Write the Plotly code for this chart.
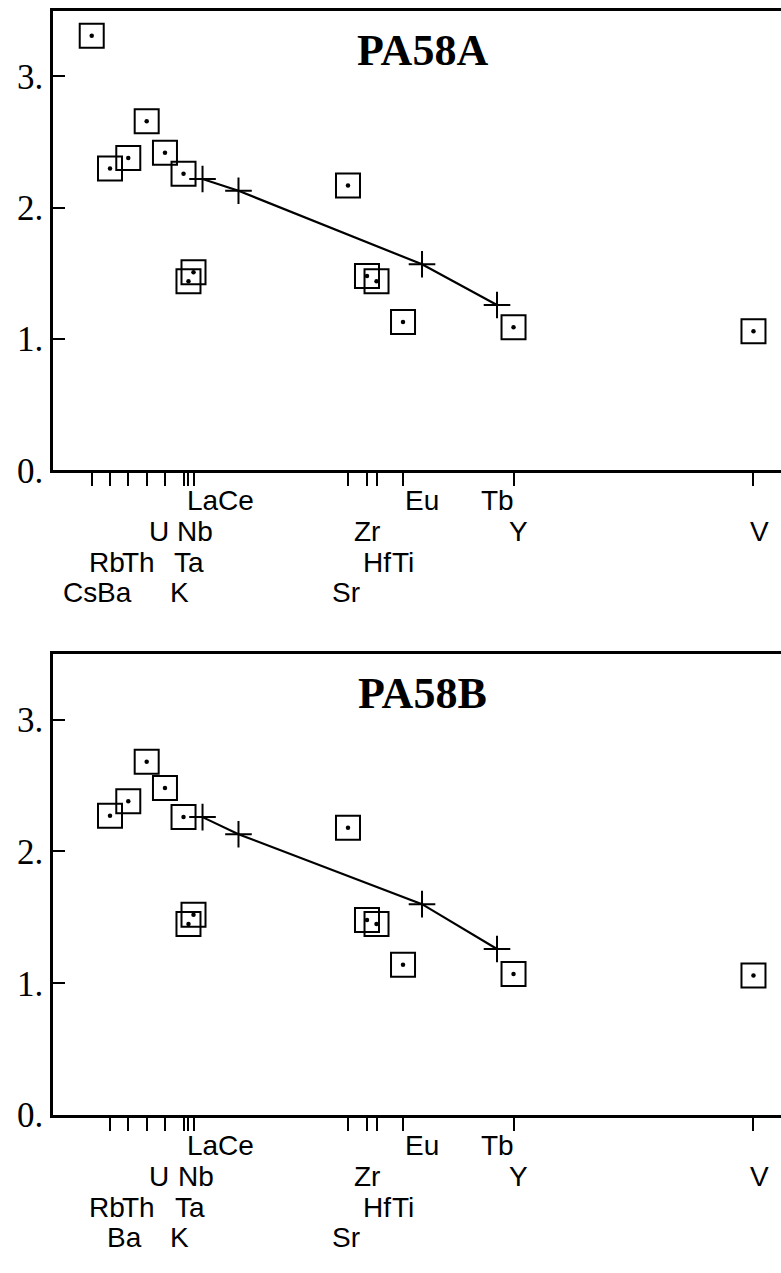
import plotly.graph_objects as go

# Element order along the diagram axis and their axis positions
elements = ["Cs", "Rb", "Ba", "Th", "U", "K", "Ta", "Nb", "La", "Ce",
            "Sr", "Zr", "Hf", "Ti", "Eu", "Tb", "Y", "V"]
positions = [5.32, 7.83, 10.34, 12.87, 15.38, 17.93, 18.61, 19.30, 20.54, 25.48,
             40.52, 43.13, 44.44, 48.08, 50.69, 60.99, 63.26, 96.22]
ree = ["La", "Ce", "Eu", "Tb"]

# Label row under the axis for each element (1 = closest to the axis)
label_row = {"La": 1, "Ce": 1, "Eu": 1, "Tb": 1,
             "U": 2, "Nb": 2, "Zr": 2, "Y": 2, "V": 2,
             "Rb": 3, "Th": 3, "Ta": 3, "Hf": 3, "Ti": 3,
             "Cs": 4, "Ba": 4, "K": 4, "Sr": 4}

# Sample PA58A (log normalised abundances)
a_trace_el = ["Cs", "Rb", "Ba", "Th", "U", "K", "Ta", "Nb", "Sr", "Zr", "Hf", "Ti", "Y", "V"]
a_trace_val = [3.31, 2.30, 2.38, 2.66, 2.42, 2.26, 1.44, 1.51, 2.17, 1.48, 1.44, 1.13, 1.09, 1.06]
a_ree_val = [2.22, 2.13, 1.57, 1.26]

# Sample PA58B
b_trace_el = ["Rb", "Ba", "Th", "U", "K", "Ta", "Nb", "Sr", "Zr", "Hf", "Ti", "Y", "V"]
b_trace_val = [2.27, 2.38, 2.68, 2.48, 2.26, 1.45, 1.52, 2.18, 1.48, 1.45, 1.14, 1.07, 1.06]
b_ree_val = [2.26, 2.13, 1.60, 1.26]

y_ticks = [0, 1, 2, 3]
y_ticktext = ["0.", "1.", "2.", "3."]

pos = dict(zip(elements, positions))

# horizontal nudges (px) of the element labels
a_label_dx = {"Cs": -12, "Rb": -3, "Ba": -14, "Th": -8, "U": -6, "K": -4, "Ta": 1, "Nb": 1,
              "Ce": -2, "Sr": -2, "Y": 5, "V": 6}
b_label_dx = {"Rb": -3, "Ba": -4, "Th": -8, "U": -6, "K": -4, "Ta": 2, "Nb": 2,
              "Ce": -2, "Sr": -2, "Y": 5, "V": 6}

FIG_W, FIG_H = 781, 1273

panels = [
    dict(name="PA58A", tr_el=a_trace_el, tr_val=a_trace_val, ree_val=a_ree_val,
         dx=a_label_dx, xa="x", ya="y", xr="xaxis", yr="yaxis", xo="xaxis3",
         top=11, bottom=478),
    dict(name="PA58B", tr_el=b_trace_el, tr_val=b_trace_val, ree_val=b_ree_val,
         dx=b_label_dx, xa="x2", ya="y2", xr="xaxis2", yr="yaxis2", xo="xaxis4",
         top=664, bottom=1133),
]

SANS = "Liberation Sans, Arial, sans-serif"
SERIF = "Liberation Serif, Times New Roman, serif"
ROW_SHIFT = {1: -30, 2: -61, 3: -92, 4: -122}

fig = go.Figure()
layout = dict(width=FIG_W, height=FIG_H, margin=dict(l=53, r=0, t=0, b=0, pad=0),
              paper_bgcolor="white", plot_bgcolor="white", showlegend=False)
annotations = []

for p in panels:
    xs_tr = [pos[e] for e in p["tr_el"]]
    xs_ree = [pos[e] for e in ree]
    # trace elements: open squares with a centre dot
    fig.add_trace(go.Scatter(
        x=xs_tr, y=p["tr_val"], xaxis=p["xa"], yaxis=p["ya"],
        mode="markers", cliponaxis=False,
        marker=dict(symbol="square-open", size=24, color="black",
                    line=dict(width=2, color="black"))))
    fig.add_trace(go.Scatter(
        x=xs_tr, y=p["tr_val"], xaxis=p["xa"], yaxis=p["ya"],
        mode="markers", cliponaxis=False,
        marker=dict(symbol="circle", size=4.5, color="black", line=dict(width=0))))
    # rare earths: crosses joined by a line
    fig.add_trace(go.Scatter(
        x=xs_ree, y=p["ree_val"], xaxis=p["xa"], yaxis=p["ya"],
        mode="lines+markers", cliponaxis=False,
        line=dict(color="black", width=2.2),
        marker=dict(symbol="cross-thin-open", size=19, color="black",
                    line=dict(width=2, color="black"))))

    present = p["tr_el"] + ree
    down_ticks = [pos[e] for e in elements if e in present and e not in ree]
    up_ticks = [pos[e] for e in ree]
    dom = [1 - p["bottom"] / FIG_H, 1 - p["top"] / FIG_H]

    layout[p["xr"]] = dict(domain=[0, 1], range=[0, 100], anchor=p["ya"],
                           showgrid=False, zeroline=False, showline=True, mirror=True,
                           linecolor="black", linewidth=2.6,
                           tickmode="array", tickvals=down_ticks, ticks="outside",
                           ticklen=13, tickwidth=2, tickcolor="black",
                           showticklabels=False)
    layout[p["xo"]] = dict(domain=[0, 1], range=[0, 100], anchor=p["ya"],
                           overlaying=p["xa"], side="bottom",
                           showgrid=False, zeroline=False, showline=False,
                           tickmode="array", tickvals=up_ticks, ticks="inside",
                           ticklen=15, tickwidth=2, tickcolor="black",
                           showticklabels=False)
    layout[p["yr"]] = dict(domain=dom, range=[0, 3.5], anchor=p["xa"],
                           showgrid=False, zeroline=False, showline=True, mirror=False,
                           linecolor="black", linewidth=2.6,
                           tickmode="array", tickvals=y_ticks, ticktext=y_ticktext,
                           ticks="inside", ticklen=12, tickwidth=2, tickcolor="black",
                           tickfont=dict(family=SERIF, size=35, color="black"))

    # element labels under the axis
    for e in elements:
        if e not in present:
            continue
        annotations.append(dict(
            x=pos[e], xref=p["xa"], y=0, yref=p["ya"] + " domain",
            text=e, showarrow=False, xanchor="center", yanchor="middle",
            xshift=p["dx"].get(e, 0), yshift=ROW_SHIFT[label_row[e]],
            font=dict(family=SANS, size=28, color="black")))

    # sample name
    annotations.append(dict(
        x=0.508, xref="paper", y=1, yref=p["ya"] + " domain",
        text="<b>" + p["name"] + "</b>", showarrow=False,
        xanchor="center", yanchor="middle", yshift=-40,
        font=dict(family=SERIF, size=44, color="black")))

layout["annotations"] = annotations
fig.update_layout(**layout)
fig.write_html("out.html")
